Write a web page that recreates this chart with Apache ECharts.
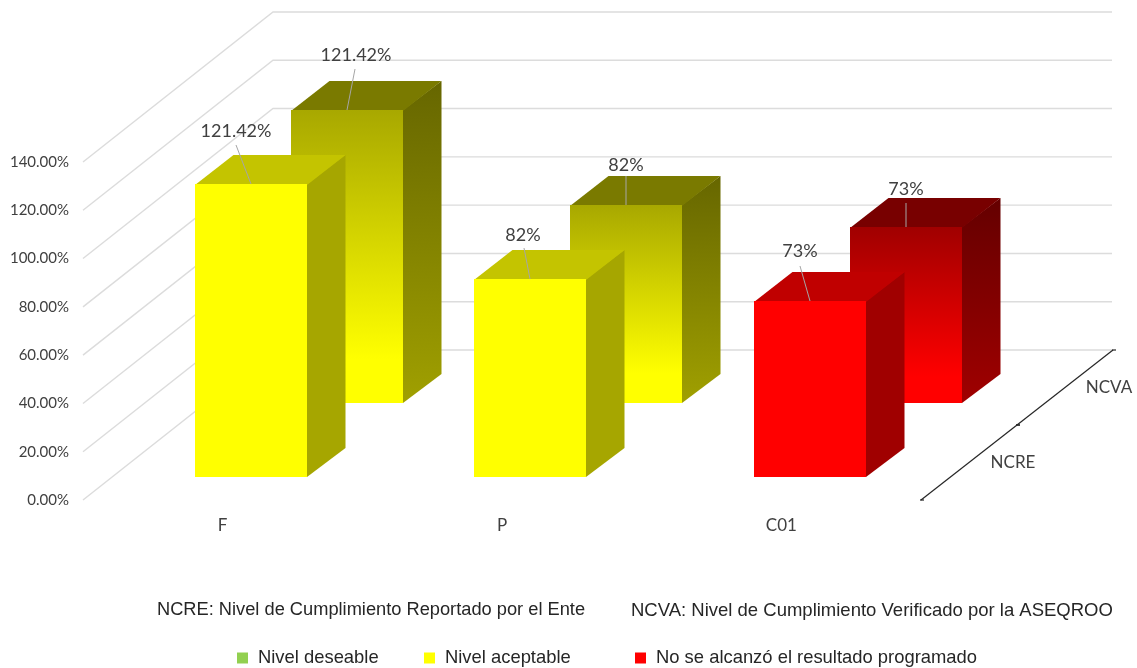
<!DOCTYPE html>
<html>
<head>
<meta charset="utf-8">
<style>html,body{margin:0;padding:0;background:#fff}#c{width:1137px;height:668px}</style>
<script src="https://cdn.jsdelivr.net/npm/echarts@6/dist/echarts.min.js"></script>
</head>
<body>
<div id="c"></div>
<script>
const categories = ['F', 'P', 'C01'];
const ncre = [121.42, 82, 73];
const ncva = [121.42, 82, 73];
const levelOfCategory = ['Nivel aceptable', 'Nivel aceptable', 'No se alcanzó el resultado programado'];
const levels = ['Nivel deseable', 'Nivel aceptable', 'No se alcanzó el resultado programado'];
const yTicks = [0, 20, 40, 60, 80, 100, 120, 140];
const depthNames = ['NCRE', 'NCVA'];
const captionLeft = 'NCRE: Nivel de Cumplimiento Reportado por el Ente';
const captionRight = 'NCVA: Nivel de Cumplimiento Verificado por la ASEQROO';

// --- layout and styling (separate from the data) ---
const DEPTH = [190, -150];                   // wall offset of the oblique projection
const ROW_OFFSET = [[28.2, -23], [124.2, -97]]; // where each row's bar starts on the floor
const BAR_OFFSET = [38.5, -29];              // depth of a bar
const BAR_WIDTH = 0.4;                       // share of a category band
const LABEL_FONT = '18px Lato';
// label offset from the centre of the bar's front top edge: [text dx, text dy, leader dx, leader dy]
const labelOffsets = [
  [[-15, -53, -15, -39], [-7, -44, -6, -31], [-10, -50, -10, -35]],
  [[9, -55, 8, -41], [0, -40, 0, -29], [0, -38, 0, -24]]
];
const palettes = {
  'Nivel deseable': { base: '#92d050' },
  'Nivel aceptable': {
    base: '#ffff00',
    front: { face: ['#ffff00', '#ffff00'], top: '#c4c400', side: ['#a6a600', '#a6a600'] },
    back: { face: ['#a8a800', '#ffff00'], top: '#7a7a00', side: ['#666600', '#a0a000'] }
  },
  'No se alcanzó el resultado programado': {
    base: '#ff0000',
    front: { face: ['#ff0000', '#ff0000'], top: '#c00000', side: ['#a00000', '#a00000'] },
    back: { face: ['#a00000', '#ff0000'], top: '#780000', side: ['#640000', '#a00000'] }
  }
};
const grad = (c, x2, end) => ({ type: 'linear', x: 0, y: 0, x2: x2 || 0, y2: 1, colorStops: [{ offset: 0, color: c[0] }, { offset: end || 1, color: c[1] }, { offset: 1, color: c[1] }] });

function renderBar(params, api) {
  const cat = api.value(0), val = api.value(1), row = api.value(2);
  const pal = palettes[levels[api.value(3)]][row === 0 ? 'front' : 'back'];
  const band = params.coordSys.width / categories.length;
  const w = Math.round(band * BAR_WIDTH);
  const top = api.coord([cat, val]);
  const base = api.coord([cat, 0]);
  const ro = ROW_OFFSET[row];
  const dx = BAR_OFFSET[0], dy = BAR_OFFSET[1];
  const l = Math.round(base[0] + ro[0] - w / 2), r = l + w;
  const yb = Math.round(base[1] + ro[1]), yt = Math.round(top[1] + ro[1]);
  const off = labelOffsets[row][cat];
  const cx = (l + r) / 2;
  return {
    type: 'group',
    children: [
      { type: 'polygon', shape: { points: [[r, yt], [r + dx, yt + dy], [r + dx, yb + dy], [r, yb]] }, style: { fill: grad(pal.side, 0.15) } },
      { type: 'polygon', shape: { points: [[l, yt + 1], [l + dx, yt + dy], [r + dx, yt + dy], [r, yt + 1]] }, style: { fill: pal.top } },
      { type: 'rect', shape: { x: l, y: yt, width: w, height: yb - yt }, style: { fill: grad(pal.face, 0, 0.85) } },
      { type: 'line', shape: { x1: cx + off[2], y1: yt + off[3], x2: cx, y2: yt }, style: { stroke: '#a6a6a6', lineWidth: 1 } },
      { type: 'text', style: { text: val + '%', x: cx + off[0], y: yt + off[1], align: 'center', verticalAlign: 'middle', fill: '#404040', font: LABEL_FONT } }
    ]
  };
}

function renderWall(params, api) {
  const v = api.value(0);
  const p = api.coord([0, v]);
  const cs = params.coordSys;
  const x0 = cs.x, y0 = p[1];
  const x1 = x0 + DEPTH[0], y1 = y0 + DEPTH[1];
  return { type: 'polyline', shape: { points: [[x0, y0], [x1, y1], [cs.x + cs.width + DEPTH[0] + 1, y1]] }, style: { stroke: '#dcdcdc', lineWidth: 1.4, fill: null } };
}

function renderDepth(params, api) {
  const i = api.value(0);
  const cs = params.coordSys;
  const ox = cs.x + cs.width, oy = cs.y + cs.height;
  const n = depthNames.length;
  const pt = t => [ox + (DEPTH[0] + 2) * t, oy + DEPTH[1] * t];
  const a = pt(i / n), b = pt((i + 1) / n), m = pt((i + 0.5) / n);
  return {
    type: 'group',
    children: [
      { type: 'line', shape: { x1: a[0], y1: a[1], x2: b[0], y2: b[1] }, style: { stroke: '#262626', lineWidth: 1.2 } },
      { type: 'line', shape: { x1: a[0] - 1, y1: a[1], x2: a[0] + 3, y2: a[1] }, style: { stroke: '#262626', lineWidth: 1.2 } },
      { type: 'line', shape: { x1: b[0] - 1, y1: b[1], x2: b[0] + 3, y2: b[1] }, style: { stroke: '#262626', lineWidth: 1.2 } },
      { type: 'text', style: { text: depthNames[i], x: m[0] + 44, y: m[1], align: 'center', verticalAlign: 'middle', fill: '#404040', font: '17px Lato' } }
    ]
  };
}

// Bars per level, back row first so that the front row paints over it.
function barsFor(level) {
  const out = [];
  [ncva, ncre].forEach((vals, k) => {
    vals.forEach((v, i) => {
      if (levelOfCategory[i] === level) out.push([i, v, 1 - k, levels.indexOf(level)]);
    });
  });
  return out;
}

const legendLeft = [237, 424, 635];
const chart = echarts.init(document.getElementById('c'), null, { renderer: 'canvas' });
chart.setOption({
  animation: false,
  backgroundColor: '#ffffff',
  grid: { left: 83, width: 838, top: 162, height: 338 },
  xAxis: {
    type: 'category', data: categories,
    axisLine: { show: false }, axisTick: { show: false }, splitLine: { show: false },
    axisLabel: { margin: 17, color: '#404040', fontFamily: 'Lato', fontSize: 17 }
  },
  yAxis: {
    type: 'value', min: 0, max: 140, interval: 20,
    axisLine: { show: false }, axisTick: { show: false }, splitLine: { show: false },
    axisLabel: { margin: 14, color: '#404040', fontFamily: 'Lato', fontSize: 15, formatter: v => v.toFixed(2) + '%' }
  },
  legend: levels.map((name, i) => ({
    data: [name], left: legendLeft[i], top: 649, padding: 0, icon: 'rect', itemWidth: 11, itemHeight: 11, itemGap: 0,
    selectedMode: false,
    textStyle: { fontFamily: 'Liberation Sans', fontSize: 18.4, color: '#262626', padding: [0, 0, 0, 5] }
  })),
  series: [
    { type: 'custom', name: 'muros', silent: true, z: 1, encode: { y: 0 }, data: yTicks.map(v => [v]), renderItem: renderWall },
    { type: 'custom', name: 'profundidad', silent: true, z: 1, data: depthNames.map((_, i) => [i]), encode: { x: 0 }, renderItem: renderDepth }
  ].concat(levels.map(level => ({
    type: 'custom', name: level, z: 2,
    itemStyle: { color: palettes[level].base },
    encode: { x: 0, y: 1 }, data: barsFor(level), renderItem: renderBar
  }))),
  graphic: [
    { type: 'text', left: 157, top: 601, style: { text: captionLeft, font: '18.25px "Liberation Sans"', fill: '#262626' } },
    { type: 'text', left: 631, top: 601, style: { text: captionRight, font: '18.5px "Liberation Sans"', fill: '#262626' } }
  ]
});
</script>
</body>
</html>
